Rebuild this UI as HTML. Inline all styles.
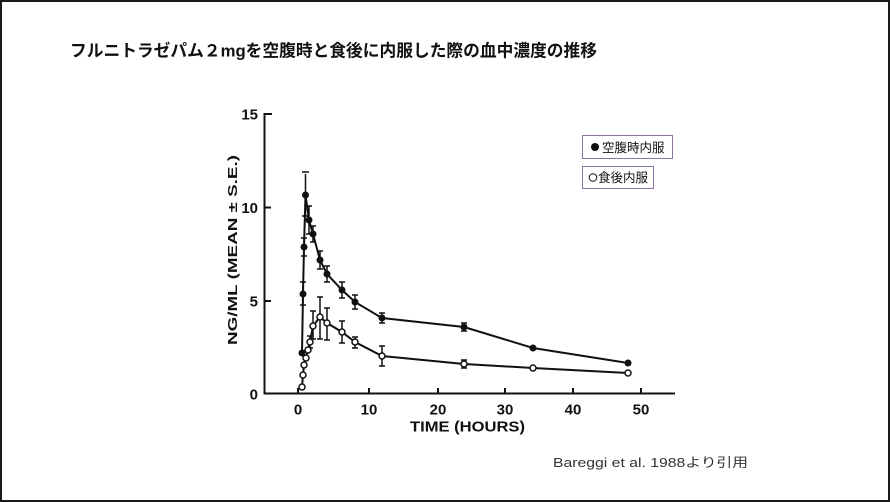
<!DOCTYPE html>
<html>
<head>
<meta charset="utf-8">
<style>
html,body{margin:0;padding:0;background:#fff;}
body{width:890px;height:502px;overflow:hidden;}
svg{display:block;}
</style>
</head>
<body>
<svg width="890" height="502" viewBox="0 0 890 502" xmlns="http://www.w3.org/2000/svg">
  <rect x="1" y="1" width="888" height="500" fill="#fff" stroke="#1a1a1a" stroke-width="2"/>

  <!-- Title -->
  <text x="70" y="56.5" font-family="'Liberation Sans','Noto Sans CJK JP',sans-serif" font-weight="bold" font-size="17" fill="#111" textLength="527" lengthAdjust="spacingAndGlyphs">フルニトラゼパム２mgを空腹時と食後に内服した際の血中濃度の推移</text>

  <!-- Axes -->
  <g stroke="#111" stroke-width="2" fill="none">
    <line x1="264.5" y1="113" x2="264.5" y2="394"/>
    <line x1="263.5" y1="393.5" x2="675" y2="393.5"/>
    <!-- y ticks -->
    <line x1="264" y1="114" x2="272" y2="114"/>
    <line x1="264" y1="207.5" x2="271" y2="207.5"/>
    <line x1="264" y1="301" x2="271" y2="301"/>
    <!-- x ticks -->
    <line x1="298" y1="393" x2="298" y2="388"/>
    <line x1="369" y1="393" x2="369" y2="388"/>
    <line x1="438" y1="393" x2="438" y2="388"/>
    <line x1="505" y1="393" x2="505" y2="388"/>
    <line x1="573" y1="393" x2="573" y2="388"/>
    <line x1="641" y1="393" x2="641" y2="388"/>
  </g>

  <!-- Tick labels -->
  <g font-family="'Liberation Sans',sans-serif" font-weight="bold" font-size="15" fill="#111">
    <text x="258" y="119.5" text-anchor="end">15</text>
    <text x="258" y="213" text-anchor="end">10</text>
    <text x="258" y="306.5" text-anchor="end">5</text>
    <text x="258" y="399.5" text-anchor="end">0</text>
    <text x="298" y="414.5" text-anchor="middle">0</text>
    <text x="369" y="414.5" text-anchor="middle">10</text>
    <text x="438" y="414.5" text-anchor="middle">20</text>
    <text x="505" y="414.5" text-anchor="middle">30</text>
    <text x="573" y="414.5" text-anchor="middle">40</text>
    <text x="641" y="414.5" text-anchor="middle">50</text>
    <text x="410" y="431.5" textLength="115" lengthAdjust="spacingAndGlyphs" font-size="14.5">TIME (HOURS)</text>
    <text transform="translate(237,345) rotate(-90)" textLength="190" lengthAdjust="spacingAndGlyphs" font-size="13">NG/ML (MEAN ± S.E.)</text>
  </g>

  <!-- Error bars -->
  <g stroke="#111" stroke-width="1.5" fill="none">
    <!-- filled series -->
    <path d="M305.5,174V216 M302,172 h7 M302,216 h7"/>
    <path d="M309,206V234 M306,206 h6 M306,234 h6"/>
    <path d="M313,226V242 M310,226 h6 M310,242 h6"/>
    <path d="M320,251V269 M317,251 h6 M317,269 h6"/>
    <path d="M327,266V282 M324,266 h6 M324,282 h6"/>
    <path d="M342,282V298 M339,282 h6 M339,298 h6"/>
    <path d="M355,295V309 M352,295 h6 M352,309 h6"/>
    <path d="M382,313V323 M379,313 h6 M379,323 h6"/>
    <path d="M464,323V331 M461,323 h6 M461,331 h6"/>
    <path d="M303,282V305 M300,282 h6 M300,305 h6"/>
    <path d="M304,238V256 M301,238 h6 M301,256 h6"/>
    <!-- open series -->
    <path d="M313,311V339 M310,311 h6 M310,339 h6"/>
    <path d="M320,297V339 M317,297 h6 M317,339 h6"/>
    <path d="M327,308V340 M324,308 h6 M324,340 h6"/>
    <path d="M342,321V343 M339,321 h6 M339,343 h6"/>
    <path d="M355,337V348 M352,337 h6 M352,348 h6"/>
    <path d="M382,346V366 M379,346 h6 M379,366 h6"/>
    <path d="M464,360V368 M461,360 h6 M461,368 h6"/>
    <path d="M310,336V348 M307,336 h6 M307,348 h6"/>
  </g>

  <!-- Filled series line -->
  <polyline fill="none" stroke="#111" stroke-width="2" points="302,353 303,294 304,247 305.5,195 309,220 313,234 320,260 327,274 342,290 355,302 382,318 464,327 533,348 628,363"/>
  <!-- Open series line -->
  <polyline fill="none" stroke="#111" stroke-width="2" points="302,387 303,375 304,365 306,358 308,350 310,342 313,326 320,317 327,323 342,332 355,342 382,356 464,364 533,368 628,373"/>

  <!-- Filled markers -->
  <g fill="#111">
    <circle cx="302" cy="353" r="3.5"/>
    <circle cx="303" cy="294" r="3.5"/>
    <circle cx="304" cy="247" r="3.5"/>
    <circle cx="305.5" cy="195" r="3.5"/>
    <circle cx="309" cy="220" r="3.5"/>
    <circle cx="313" cy="234" r="3.5"/>
    <circle cx="320" cy="260" r="3.5"/>
    <circle cx="327" cy="274" r="3.5"/>
    <circle cx="342" cy="290" r="3.5"/>
    <circle cx="355" cy="302" r="3.5"/>
    <circle cx="382" cy="318" r="3.5"/>
    <circle cx="464" cy="327" r="3.5"/>
    <circle cx="533" cy="348" r="3.5"/>
    <circle cx="628" cy="363" r="3.5"/>
  </g>
  <!-- Open markers -->
  <g fill="#fff" stroke="#111" stroke-width="1.5">
    <circle cx="302" cy="387" r="3"/>
    <circle cx="303" cy="375" r="3"/>
    <circle cx="304" cy="365" r="3"/>
    <circle cx="306" cy="358" r="3"/>
    <circle cx="308" cy="350" r="3"/>
    <circle cx="310" cy="342" r="3"/>
    <circle cx="313" cy="326" r="3"/>
    <circle cx="320" cy="317" r="3"/>
    <circle cx="327" cy="323" r="3"/>
    <circle cx="342" cy="332" r="3"/>
    <circle cx="355" cy="342" r="3"/>
    <circle cx="382" cy="356" r="3"/>
    <circle cx="464" cy="364" r="3"/>
    <circle cx="533" cy="368" r="3"/>
    <circle cx="628" cy="373" r="3"/>
  </g>

  <!-- Legend -->
  <rect x="582.5" y="135.5" width="90" height="23" fill="#fff" stroke="#8c73a8" stroke-width="1"/>
  <circle cx="595" cy="147" r="4" fill="#111"/>
  <text x="602" y="152" font-family="'Liberation Sans','Noto Sans CJK JP',sans-serif" font-size="12.5" fill="#111">空腹時内服</text>
  <rect x="582.5" y="166.5" width="71" height="22" fill="#fff" stroke="#8c73a8" stroke-width="1"/>
  <circle cx="593" cy="177.5" r="3.8" fill="none" stroke="#111" stroke-width="1"/>
  <text x="598" y="182" font-family="'Liberation Sans','Noto Sans CJK JP',sans-serif" font-size="12.5" fill="#111">食後内服</text>

  <!-- Citation -->
  <text x="553" y="467" font-family="'Liberation Sans','Noto Sans CJK JP',sans-serif" font-size="13" fill="#333" textLength="195" lengthAdjust="spacingAndGlyphs">Bareggi et al. 1988より引用</text>
</svg>
</body>
</html>
